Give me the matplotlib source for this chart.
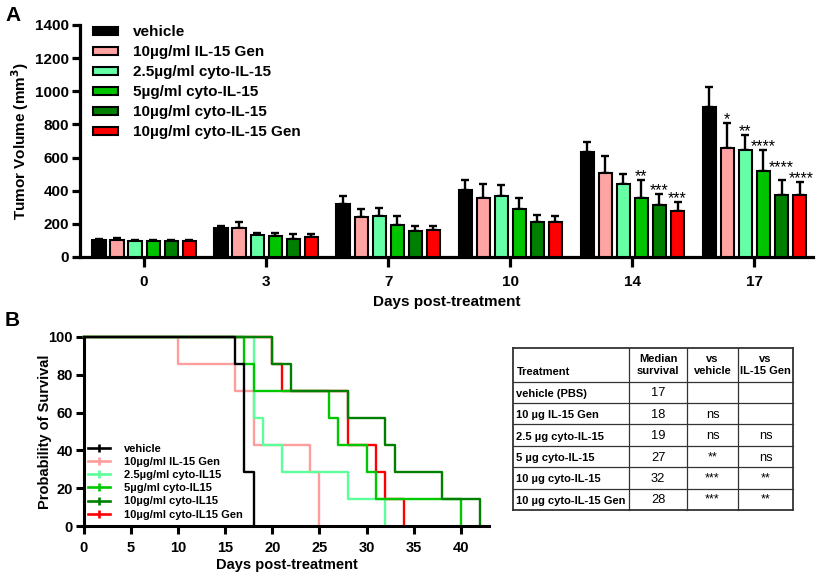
import matplotlib
matplotlib.use("Agg")
import matplotlib.pyplot as plt
import numpy as np
from matplotlib.lines import Line2D

plt.rcParams['font.family'] = ['Liberation Sans', 'DejaVu Sans']

# ---------------- data ----------------
days = ['0', '3', '7', '10', '14', '17']
groups = ['vehicle', '10\u00b5g/ml IL-15 Gen', '2.5\u00b5g/ml cyto-IL-15',
          '5\u00b5g/ml cyto-IL-15', '10\u00b5g/ml cyto-IL-15', '10\u00b5g/ml cyto-IL-15 Gen']
bar_colors = ['#000000', '#FFA3A3', '#66FFA6', '#00C400', '#007F00', '#FF0000']

vehicle_vol = [100, 175, 322, 407, 632, 906]
il15gen_vol = [105, 175, 242, 359, 508, 657]
cyto25_vol = [97, 131, 250, 369, 443, 646]
cyto5_vol = [97, 125, 196, 288, 359, 516]
cyto10_vol = [97, 111, 157, 210, 312, 375]
cyto10gen_vol = [97, 121, 165, 211, 280, 375]

vehicle_err = [8, 10, 45, 55, 63, 119]
il15gen_err = [8, 35, 50, 82, 104, 153]
cyto25_err = [6, 16, 48, 64, 58, 93]
cyto5_err = [6, 20, 50, 66, 108, 130]
cyto10_err = [6, 26, 33, 44, 71, 90]
cyto10gen_err = [8, 16, 25, 37, 54, 78]

# significance marks (group index, day index, label)
sig_group = [3, 4, 5, 1, 2, 3, 4, 5]
sig_day = [4, 4, 4, 5, 5, 5, 5, 5]
sig_text = ['**', '***', '***', '*', '**', '****', '****', '****']

# survival (Kaplan-Meier steps)
surv_labels = ['vehicle', '10\u00b5g/ml IL-15 Gen', '2.5\u00b5g/ml cyto-IL15',
               '5\u00b5g/ml cyto-IL15', '10\u00b5g/ml cyto-IL15', '10\u00b5g/ml cyto-IL15 Gen']
surv_colors = ['#000000', '#FF9C9C', '#5CFF99', '#00C800', '#007F00', '#FF0000']
veh_t = [0, 16, 17, 18]
veh_s = [100, 85.7, 28.6, 0]
gen_t = [0, 10, 16, 18, 24, 25]
gen_s = [100, 85.7, 71.4, 42.9, 28.6, 0]
c25_t = [0, 18, 19, 21, 28, 32]
c25_s = [100, 57.1, 42.9, 28.6, 14.3, 0]
c5_t = [0, 17, 18, 26, 27, 30, 31, 40]
c5_s = [100, 85.7, 71.4, 57.1, 42.9, 28.6, 14.3, 0]
c10_t = [0, 20, 22, 28, 32, 33, 38, 42]
c10_s = [100, 85.7, 71.4, 57.1, 42.9, 28.6, 14.3, 0]
c10g_t = [0, 20, 21, 28, 31, 32, 34]
c10g_s = [100, 85.7, 71.4, 42.9, 28.6, 14.3, 0]

# table
tbl_header = ['Treatment', 'Median\nsurvival', 'vs\nvehicle', 'vs\nIL-15 Gen']
tbl_treat = ['vehicle (PBS)', '10 \u00b5g IL-15 Gen', '2.5 \u00b5g cyto-IL-15',
             '5 \u00b5g cyto-IL-15', '10 \u00b5g cyto-IL-15', '10 \u00b5g cyto-IL-15 Gen']
tbl_median = ['17', '18', '19', '27', '32', '28']
tbl_vs_veh = ['', 'ns', 'ns', '**', '***', '***']
tbl_vs_gen = ['', '', 'ns', 'ns', '**', '**']

# ---------------- figure ----------------
W, H = 816, 573
fig = plt.figure(figsize=(W / 100, H / 100), dpi=100)

def fx(px):
    return px / W

def fy(py):
    return 1 - py / H

# ---- panel A ----
axA = fig.add_axes([fx(80), fy(257), fx(813) - fx(80), fy(25) - fy(257)])
vols = [vehicle_vol, il15gen_vol, cyto25_vol, cyto5_vol, cyto10_vol, cyto10gen_vol]
errs = [vehicle_err, il15gen_err, cyto25_err, cyto5_err, cyto10_err, cyto10gen_err]
xc = np.arange(len(days))
step = 0.148
bw = 0.108
for k in range(6):
    xs = xc + (k - 2.5) * step
    axA.bar(xs, vols[k], width=bw, color=bar_colors[k], edgecolor='black',
            linewidth=1.5, zorder=3, label=groups[k])
    axA.errorbar(xs, vols[k], yerr=[np.zeros(6), errs[k]], fmt='none',
                 ecolor='black', elinewidth=1.7, capsize=2.6, capthick=1.7, zorder=2)

for n, (g, d, t) in enumerate(zip(sig_group, sig_day, sig_text)):
    xs = d + (g - 2.5) * step
    top = vols[g][d] + errs[g][d]
    # neighbouring star labels are staggered as in the original layout
    lift = 6.5 if n == 6 else 0
    shift = 1.5 if n == 7 else 0
    axA.annotate(t, (xs, top), xytext=(shift, -1 + lift), textcoords='offset points',
                 ha='center', va='baseline', fontsize=11.5, color='black')

axA.set_xlim(-0.525, 5.48)
axA.set_ylim(0, 1400)
axA.set_yticks(range(0, 1401, 200))
axA.set_xticks(xc)
axA.set_xticklabels(days)
for s in ['top', 'right']:
    axA.spines[s].set_visible(False)
for s in ['left', 'bottom']:
    axA.spines[s].set_linewidth(2.3)
axA.tick_params(axis='y', direction='out', length=6, width=2.3, labelsize=11, pad=2)
axA.tick_params(axis='x', direction='out', length=7, width=2.3, labelsize=11, pad=6)
for lab in axA.get_xticklabels() + axA.get_yticklabels():
    lab.set_fontweight('bold')
axA.set_xlabel('Days post-treatment', fontsize=11, fontweight='bold', labelpad=4)
axA.set_ylabel('Tumor Volume (mm$^\\mathbf{3}$)', fontsize=11, fontweight='bold', labelpad=3)
legA = axA.legend(loc='upper left', bbox_to_anchor=(fx(93), fy(25.5)),
                  bbox_transform=fig.transFigure, frameon=False, borderpad=0,
                  borderaxespad=0, handlelength=1.65, handleheight=0.5,
                  handletextpad=0.95, labelspacing=0.39,
                  prop={'weight': 'bold', 'size': 11})

# ---- panel B ----
axB = fig.add_axes([fx(84), fy(526), fx(489) - fx(84), fy(337) - fy(526)])
surv = [(c10g_t, c10g_s), (gen_t, gen_s), (c25_t, c25_s), (c5_t, c5_s),
        (c10_t, c10_s), (veh_t, veh_s)]
order = [5, 1, 2, 3, 4, 0]
for (t, s), idx in zip(surv, order):
    axB.step(t, s, where='post', color=surv_colors[idx], linewidth=1.7,
             clip_on=False, zorder=3)
axB.set_xlim(0, 43)
axB.set_ylim(0, 100)
axB.set_xticks(range(0, 41, 5))
axB.set_yticks(range(0, 101, 20))
for s in ['top', 'right']:
    axB.spines[s].set_visible(False)
for s in ['left', 'bottom']:
    axB.spines[s].set_linewidth(2.2)
    axB.spines[s].set_zorder(4)
axB.tick_params(axis='y', direction='out', length=6, width=2.2, labelsize=10.5, pad=2)
axB.tick_params(axis='x', direction='out', length=6, width=2.2, labelsize=10.5, pad=5)
for lab in axB.get_xticklabels() + axB.get_yticklabels():
    lab.set_fontweight('bold')
axB.set_xlabel('Days post-treatment', fontsize=10.5, fontweight='bold', labelpad=2)
axB.set_ylabel('Probability of Survival', fontsize=10.5, fontweight='bold')
axB.yaxis.set_label_coords((52 - 84) / (489 - 84), 0.5)
handlesB = [Line2D([0], [0], color=c, lw=1.9, marker='|', markersize=6,
                   markeredgewidth=1.9) for c in surv_colors]
axB.legend(handlesB, surv_labels, loc='upper left', bbox_to_anchor=(fx(88), fy(443.5)),
           bbox_transform=fig.transFigure, frameon=False, borderpad=0,
           borderaxespad=0, handlelength=2.0, handletextpad=1.2, labelspacing=0.29,
           prop={'weight': 'bold', 'size': 8.0})

# ---- panel labels ----
fig.text(fx(5), fy(21), 'A', fontsize=15, fontweight='bold', va='baseline')
fig.text(fx(5), fy(326), 'B', fontsize=15, fontweight='bold', va='baseline')

# ---- table ----
axT = fig.add_axes([0, 0, 1, 1], facecolor='none')
axT.set_xlim(0, W)
axT.set_ylim(H, 0)
axT.axis('off')
col_x = [513, 629, 687, 738, 793]
row_y = [347.5, 381.7] + [381.7 + 21.38 * (i + 1) for i in range(6)]
lc = '#333333'
for i, y in enumerate(row_y):
    lw = 1.3 if i in (0, len(row_y) - 1) else 0.9
    axT.plot([col_x[0], col_x[-1]], [y, y], color=lc, lw=lw)
for j, x in enumerate(col_x):
    lw = 1.3 if j in (0, len(col_x) - 1) else 0.9
    axT.plot([x, x], [row_y[0], row_y[-1]], color=lc, lw=lw)

fs = 8.0
axT.text(col_x[0] + 3.5, 372, tbl_header[0], ha='left', va='center', fontsize=fs,
         fontweight='bold')
for j in range(1, 4):
    cx = (col_x[j] + col_x[j + 1]) / 2
    axT.text(cx, 364.5, tbl_header[j], ha='center', va='center', fontsize=fs,
             fontweight='bold', linespacing=1.25)
for i in range(6):
    cy = (row_y[i + 1] + row_y[i + 2]) / 2 + 1.5
    axT.text(col_x[0] + 3.5, cy, tbl_treat[i], ha='left', va='center', fontsize=fs,
             fontweight='bold')
    vals = [tbl_median[i], tbl_vs_veh[i], tbl_vs_gen[i]]
    for j in range(3):
        cx = (col_x[j + 1] + col_x[j + 2]) / 2
        if vals[j].startswith('*'):
            axT.text(cx, cy - 1.0, vals[j], ha='center', va='center', fontsize=fs + 1)
        else:
            axT.text(cx, cy - 0.5, vals[j], ha='center', va='center', fontsize=fs + 1.3)

fig.savefig('out.png', dpi=100)
